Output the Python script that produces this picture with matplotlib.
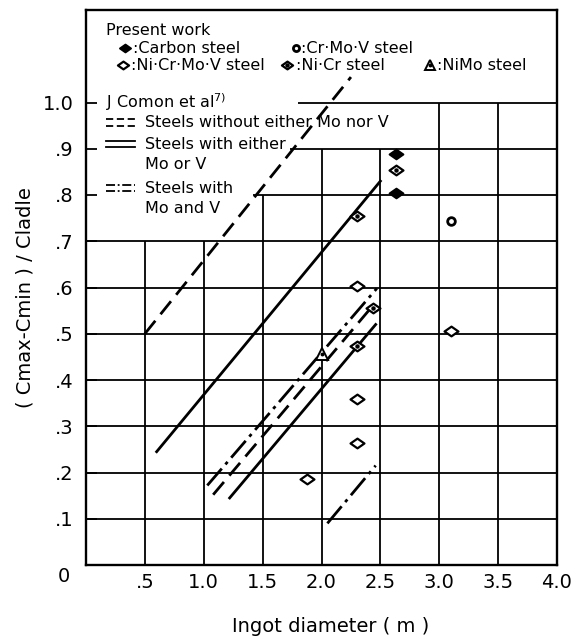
import numpy as np
import matplotlib
matplotlib.use("Agg")
import matplotlib.pyplot as plt
from matplotlib.path import Path

plt.rcParams['font.family'] = ['DejaVu Sans']

# ---- data ----
# Jomon et al. boundary lines (two ends each)
no_mo_v_hi = ([0.50, 2.25], [0.500, 1.055])
no_mo_v_lo = ([1.08, 2.45], [0.152, 0.565])
mo_or_v_hi = ([0.60, 2.50], [0.245, 0.830])
mo_or_v_lo = ([1.22, 2.46], [0.145, 0.520])
mo_and_v_hi = ([1.03, 2.47], [0.172, 0.598])
mo_and_v_lo = ([2.05, 2.46], [0.090, 0.215])

# present work
carbon_x = [2.63, 2.63]
carbon_y = [0.889, 0.804]
crmov_x = [3.10]
crmov_y = [0.743]
nicrmov_x = [2.30, 3.10, 2.30, 2.30, 1.88]
nicrmov_y = [0.604, 0.506, 0.359, 0.263, 0.185]
nicr_x = [2.63, 2.30, 2.44, 2.30]
nicr_y = [0.854, 0.755, 0.555, 0.474]
nimo_x = [2.00]
nimo_y = [0.456]

xticks = [0.5, 1.0, 1.5, 2.0, 2.5, 3.0, 3.5, 4.0]
xticklabels = ['.5', '1.0', '1.5', '2.0', '2.5', '3.0', '3.5', '4.0']
yticks = [0.1, 0.2, 0.3, 0.4, 0.5, 0.6, 0.7, 0.8, 0.9, 1.0]
yticklabels = ['.1', '.2', '.3', '.4', '.5', '.6', '.7', '.8', '.9', '1.0']

# grid is cut away where the key sits: (value, start, end)
hgrid = [(0.1, 0, 4), (0.2, 0, 4), (0.3, 0, 4), (0.4, 0, 4), (0.5, 0, 4),
         (0.6, 0, 4), (0.7, 0, 4), (0.8, 1.42, 4), (0.9, 1.73, 4), (1.0, 1.80, 4)]
vgrid = [(0.5, 0, 0.7), (1.0, 0, 0.7), (1.5, 0, 0.8), (2.0, 0, 0.9),
         (2.5, 0, 0.9), (3.0, 0, 1.0), (3.5, 0, 1.0)]

K = 'black'
DASH = (6, 3)
DASHDOT = (8, 2, 1.2, 2)

fig = plt.figure(figsize=(5.81, 6.39), dpi=100)
ax = fig.add_axes([86 / 581, 1 - 565 / 639, 471 / 581, 555 / 639])
ax.set_xlim(0, 4)
ax.set_ylim(0, 1.2)

for v, a, b in hgrid:
    ax.plot([a, b], [v, v], color=K, lw=1.3, zorder=1, solid_capstyle='butt')
for v, a, b in vgrid:
    ax.plot([v, v], [a, b], color=K, lw=1.3, zorder=1, solid_capstyle='butt')

# boundary lines
lw = 2.0
ax.plot(*no_mo_v_hi, color=K, lw=lw, dashes=DASH, zorder=2)
ax.plot(*no_mo_v_lo, color=K, lw=lw, dashes=DASH, zorder=2)
ax.plot(*mo_or_v_hi, color=K, lw=lw, zorder=2)
ax.plot(*mo_or_v_lo, color=K, lw=lw, zorder=2)
ax.plot(*mo_and_v_hi, color=K, lw=lw, dashes=DASHDOT, zorder=2)
ax.plot(*mo_and_v_lo, color=K, lw=lw, dashes=DASHDOT, zorder=2)

# flattened diamond marker
dia = Path([(-1, 0), (0, 0.7), (1, 0), (0, -0.7), (-1, 0)],
           [Path.MOVETO, Path.LINETO, Path.LINETO, Path.LINETO, Path.CLOSEPOLY])


def mark(xs, ys, kind, ms=10):
    if kind == 'carbon':
        ax.plot(xs, ys, ls='none', marker=dia, ms=ms, mfc=K, mec=K, mew=1.4, zorder=4)
    elif kind == 'crmov':
        ax.plot(xs, ys, ls='none', marker='o', ms=ms * 0.55, mfc='white', mec=K, mew=2, zorder=4)
    elif kind == 'nicrmov':
        ax.plot(xs, ys, ls='none', marker=dia, ms=ms, mfc='white', mec=K, mew=1.6, zorder=4)
    elif kind == 'nicr':
        ax.plot(xs, ys, ls='none', marker=dia, ms=ms, mfc='white', mec=K, mew=1.6, zorder=4)
        ax.plot(xs, ys, ls='none', marker='o', ms=2.2, mfc=K, mec=K, zorder=5)
    elif kind == 'nimo':
        ax.plot(xs, ys, ls='none', marker='^', ms=ms * 0.9, mfc='white', mec=K, mew=1.4, zorder=4)
        ax.plot(xs, ys, ls='none', marker='o', ms=1.8, mfc=K, mec=K, zorder=5)


mark(carbon_x, carbon_y, 'carbon')
mark(crmov_x, crmov_y, 'crmov')
mark(nicrmov_x, nicrmov_y, 'nicrmov')
mark(nicr_x, nicr_y, 'nicr')
mark(nimo_x, nimo_y, 'nimo')

# axes styling
for s in ax.spines.values():
    s.set_linewidth(1.7)
ax.set_xticks(xticks)
ax.set_xticklabels(xticklabels)
ax.set_yticks(yticks)
ax.set_yticklabels(yticklabels)
ax.tick_params(axis='x', length=0, pad=6, labelsize=14)
ax.tick_params(axis='y', direction='in', length=8, width=1.3, pad=9, labelsize=14)
ax.text(-0.19, -0.025, '0', ha='center', va='center', fontsize=14)
fig.text(331 / 581, 1 - 627 / 639, 'Ingot diameter ( m )', ha='center', va='center', fontsize=14)
fig.text(25 / 581, 1 - 298 / 639, '( Cmax-Cmin ) / Cladle', ha='center', va='center',
         rotation=90, fontsize=14)

# key: present work
fs = 11.5
ax.text(0.17, 1.155, 'Present work', ha='left', va='center', fontsize=fs)
mark([0.33], [1.117], 'carbon', ms=8)
ax.text(0.40, 1.117, ':Carbon steel', ha='left', va='center', fontsize=fs)
mark([1.78], [1.117], 'crmov', ms=8)
ax.text(1.83, 1.117, ':Cr·Mo·V steel', ha='left', va='center', fontsize=fs)
mark([0.31], [1.080], 'nicrmov', ms=8)
ax.text(0.38, 1.080, ':Ni·Cr·Mo·V steel', ha='left', va='center', fontsize=fs)
mark([1.71], [1.080], 'nicr', ms=8)
ax.text(1.78, 1.080, ':Ni·Cr steel', ha='left', va='center', fontsize=fs)
mark([2.92], [1.080], 'nimo', ms=8)
ax.text(2.98, 1.080, ':NiMo steel', ha='left', va='center', fontsize=fs)

# key: Jomon et al.
ax.text(0.17, 1.000, 'J Comon et al$^{7)}$', ha='left', va='center', fontsize=fs)
keys = [(0.957, 'Steels without either Mo nor V', DASH),
        (0.910, 'Steels with either\nMo or V', None),
        (0.815, 'Steels with\nMo and V', DASHDOT)]
for yk, label, dsh in keys:
    for off in (0.007, -0.007):
        kw = dict(color=K, lw=1.3)
        if dsh:
            kw['dashes'] = (4, 2) if dsh == DASH else (5, 1.5, 1, 1.5)
        ax.plot([0.17, 0.42], [yk + off, yk + off], **kw)
    ax.text(0.50, yk, label.split('\n')[0], ha='left', va='center', fontsize=fs)
    if '\n' in label:
        ax.text(0.50, yk - 0.045, label.split('\n')[1], ha='left', va='center', fontsize=fs)

fig.savefig('out.png', dpi=100)
